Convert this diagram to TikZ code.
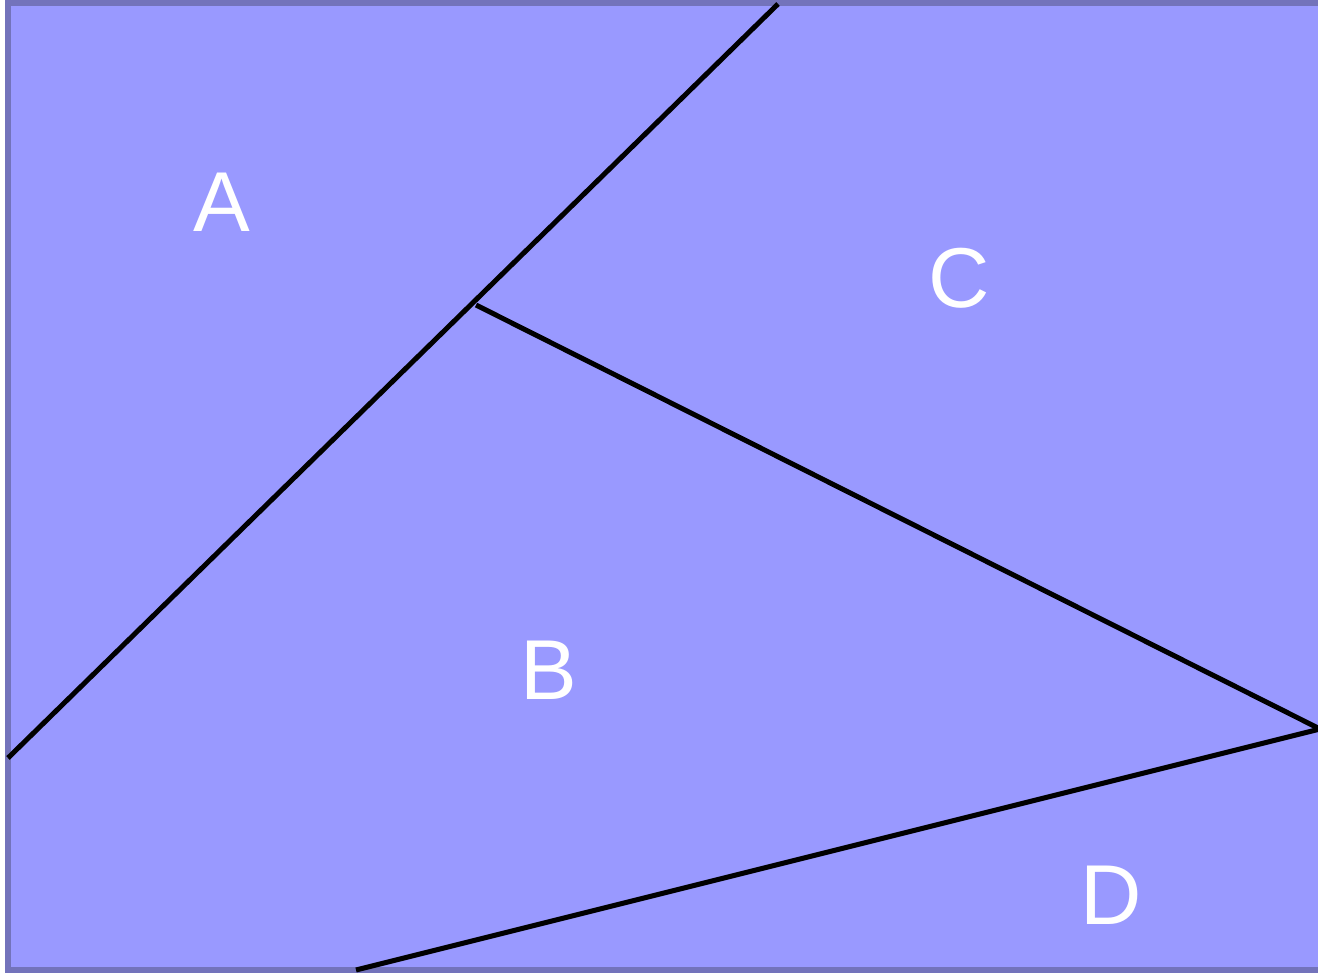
\documentclass[tikz,border=0pt]{standalone}
\usepackage{fontspec}
\setmainfont{Liberation Sans}
\definecolor{fillc}{HTML}{9999FF}
\definecolor{edgec}{HTML}{7373BB}
\begin{document}
\begin{tikzpicture}[x=1pt,y=-1pt,
  region/.style={fill=fillc,draw=edgec,line width=6pt},
  cut/.style={draw=black,line width=5pt},
  lbl/.style={text=white,font=\fontsize{85}{85}\selectfont,inner sep=0pt}]
\useasboundingbox (0,0) rectangle (1318,973);
\begin{scope}
\clip (0,0) rectangle (1318,973);
\draw[region] (7.5,3.5) rectangle (1326,969.5);
\coordinate (p1) at (8,758);
\coordinate (p2) at (778,4);
\coordinate (q1) at (476,305);
\coordinate (q2) at (1320,729);
\coordinate (r1) at (356,970);
\draw[cut] (p1) -- (p2);
\draw[cut] (q1) -- (q2);
\draw[cut] (r1) -- (q2);
\end{scope}
\node[lbl] (A) at (222,202) {A};
\node[lbl] (B) at (549,670) {B};
\node[lbl] (C) at (959,278) {C};
\node[lbl] (D) at (1111,895) {D};
\end{tikzpicture}
\end{document}
